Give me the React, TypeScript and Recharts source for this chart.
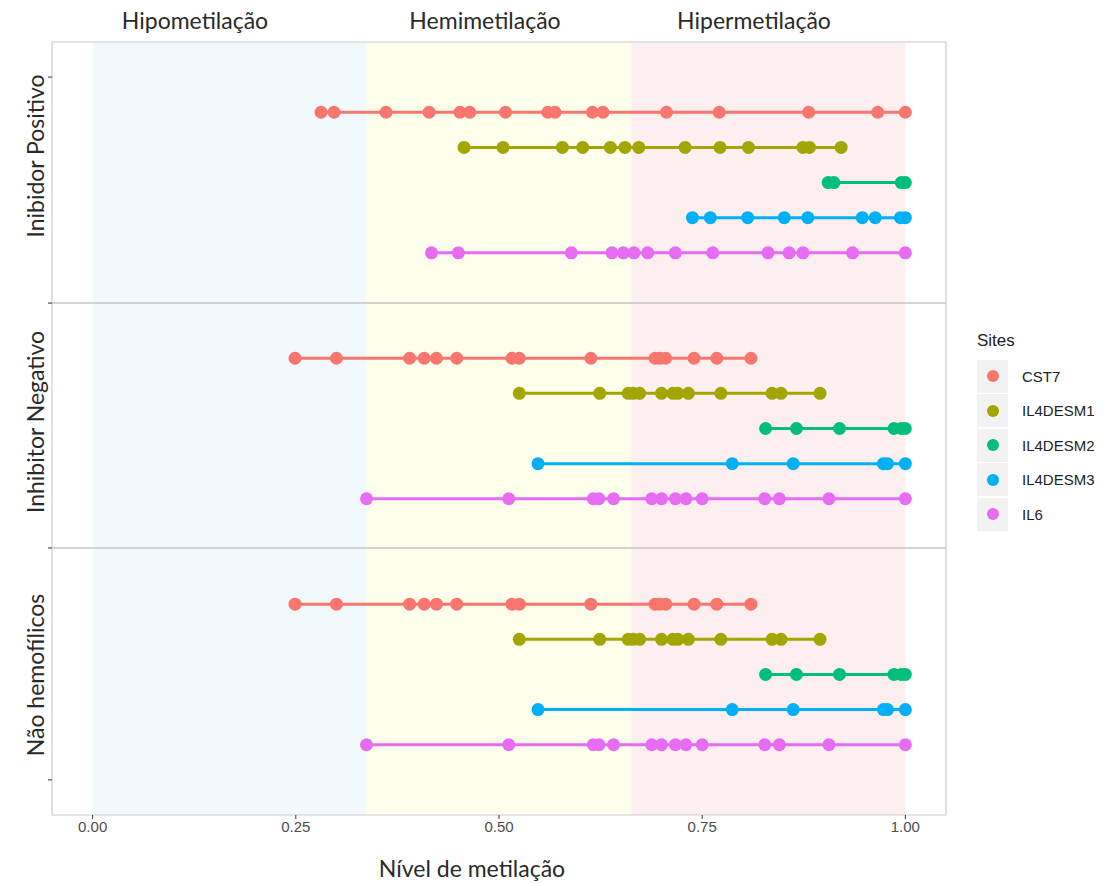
import { ScatterChart, Scatter, XAxis, YAxis, ReferenceArea, ReferenceLine } from 'recharts'

const sites = ['CST7', 'IL4DESM1', 'IL4DESM2', 'IL4DESM3', 'IL6']
const siteColors = ['#F8766D', '#A3A500', '#00BF7D', '#00B0F6', '#E76BF3']
const panels = ['Inibidor Positivo', 'Inhibitor Negativo', 'Não hemofílicos']
const xTicks = [0, 0.25, 0.5, 0.75, 1]

// methylation bands (x range) and their titles
const bandNames = ['Hipometilação', 'Hemimetilação', 'Hipermetilação']
const bandEdges = [0, 0.337, 0.663, 1]
const bandFills = ['#F2F9FD', '#FEFEEC', '#FDEEF0']

// Inibidor Positivo
const posCST7 = [0.281, 0.297, 0.361, 0.414, 0.452, 0.464, 0.508, 0.56, 0.569, 0.615, 0.628, 0.706, 0.771, 0.881, 0.966, 1.0]
const posIL4DESM1 = [0.457, 0.505, 0.578, 0.603, 0.637, 0.655, 0.672, 0.729, 0.772, 0.807, 0.874, 0.882, 0.921]
const posIL4DESM2 = [0.905, 0.912, 0.995, 1.0]
const posIL4DESM3 = [0.738, 0.76, 0.806, 0.851, 0.88, 0.947, 0.963, 0.994, 1.0]
const posIL6 = [0.417, 0.45, 0.589, 0.639, 0.653, 0.666, 0.683, 0.717, 0.763, 0.831, 0.857, 0.874, 0.935, 1.0]

// Inhibitor Negativo
const negCST7 = [0.249, 0.3, 0.39, 0.408, 0.423, 0.448, 0.516, 0.525, 0.613, 0.692, 0.698, 0.705, 0.74, 0.768, 0.81]
const negIL4DESM1 = [0.525, 0.624, 0.659, 0.665, 0.673, 0.7, 0.714, 0.72, 0.733, 0.773, 0.836, 0.847, 0.895]
const negIL4DESM2 = [0.828, 0.866, 0.919, 0.986, 0.995, 1.0]
const negIL4DESM3 = [0.548, 0.787, 0.862, 0.973, 0.978, 1.0]
const negIL6 = [0.337, 0.512, 0.616, 0.623, 0.641, 0.688, 0.7, 0.717, 0.73, 0.75, 0.827, 0.845, 0.906, 1.0]

// Não hemofílicos
const naoCST7 = [0.249, 0.3, 0.39, 0.408, 0.423, 0.448, 0.516, 0.525, 0.613, 0.692, 0.698, 0.705, 0.74, 0.768, 0.81]
const naoIL4DESM1 = [0.525, 0.624, 0.659, 0.665, 0.673, 0.7, 0.714, 0.72, 0.733, 0.773, 0.836, 0.847, 0.895]
const naoIL4DESM2 = [0.828, 0.866, 0.919, 0.986, 0.995, 1.0]
const naoIL4DESM3 = [0.548, 0.787, 0.862, 0.973, 0.978, 1.0]
const naoIL6 = [0.337, 0.512, 0.616, 0.623, 0.641, 0.688, 0.7, 0.717, 0.73, 0.75, 0.827, 0.845, 0.906, 1.0]

const panelValues = [
  [posCST7, posIL4DESM1, posIL4DESM2, posIL4DESM3, posIL6],
  [negCST7, negIL4DESM1, negIL4DESM2, negIL4DESM3, negIL6],
  [naoCST7, naoIL4DESM1, naoIL4DESM2, naoIL4DESM3, naoIL6],
]

// row layout on the shared y scale: 5 rows per panel, panels separated by gaps
const panelStart = [0, 7, 14]
const panelBreaks = [5.43, 12.4]
const yTicks = [-1, 5.43, 12.4, 19]

const titleFont = 'Lato, "Open Sans", sans-serif'
const axisFont = '"Liberation Sans Narrow", "Liberation Sans", Arial, sans-serif'

const series = panelValues.flatMap((vals, p) =>
  vals.map((xs, s) => ({
    key: `${p}-${s}`,
    color: siteColors[s],
    data: xs.map(x => ({ x, y: panelStart[p] + s })),
  }))
)

const Dot = (color: string) => (props: any) => (
  <circle cx={props.cx} cy={props.cy} r={6.5} fill={color} />
)

export default function App() {
  return (
    <div style={{ position: 'relative', width: 1090, height: 875 }}>
      <ScatterChart width={1090} height={875} margin={{ top: 34, right: 152, bottom: 0, left: 0 }}>
        {bandNames.map((n, i) => (
          <ReferenceArea key={n} x1={bandEdges[i]} x2={bandEdges[i + 1]} y1={-2} y2={20} fill={bandFills[i]} fillOpacity={1} stroke="none" />
        ))}
        <ReferenceArea x1={-0.05} x2={1.05} y1={-2} y2={20} fill="none" stroke="#cccccc" strokeWidth={1.2} />
        {panelBreaks.map(b => (
          <ReferenceLine key={b} y={b} stroke="#c4c4c4" strokeWidth={1.5} />
        ))}
        <XAxis
          type="number"
          dataKey="x"
          domain={[-0.05, 1.05]}
          ticks={xTicks}
          tickFormatter={(v: number) => v.toFixed(2)}
          allowDataOverflow
          axisLine={false}
          tickLine={{ stroke: '#333' }}
          tickSize={4}
          tick={{ fill: '#4d4d4d', fontSize: 15, fontFamily: axisFont }}
          height={68}
        />
        <YAxis
          type="number"
          dataKey="y"
          domain={[-2, 20]}
          reversed
          ticks={yTicks}
          tickFormatter={() => ''}
          allowDataOverflow
          axisLine={false}
          tickLine={{ stroke: '#333' }}
          tickSize={4}
          width={44}
        />
        {series.map(s => (
          <Scatter
            key={s.key}
            data={s.data}
            fill={s.color}
            line={{ stroke: s.color, strokeWidth: 3 }}
            lineType="joint"
            shape={Dot(s.color)}
            isAnimationActive={false}
          />
        ))}
      </ScatterChart>

      {bandNames.map((n, i) => (
        <div key={n} style={{ position: 'absolute', left: [187, 477, 746][i], top: 0, transform: 'translateX(-50%)', fontFamily: titleFont, fontSize: 23, lineHeight: '24px', color: '#2a2a2a', whiteSpace: 'nowrap' }}>
          {n}
        </div>
      ))}

      {panels.map((n, i) => (
        <div key={n} style={{ position: 'absolute', left: 27, top: [148, 414, 667][i], transform: 'translate(-50%, -50%) rotate(-90deg)', fontFamily: titleFont, fontSize: 23, lineHeight: '24px', color: '#2a2a2a', whiteSpace: 'nowrap' }}>
          {n}
        </div>
      ))}

      <div style={{ position: 'absolute', left: 464, top: 860, transform: 'translate(-50%, -50%)', fontFamily: titleFont, fontSize: 23, color: '#2a2a2a', whiteSpace: 'nowrap' }}>
        Nível de metilação
      </div>

      <div style={{ position: 'absolute', left: 969, top: 323, fontFamily: '"Liberation Sans", Arial, sans-serif', color: '#222' }}>
        <div style={{ fontSize: 17, height: 28 }}>Sites</div>
        {sites.map((s, i) => (
          <div key={s} style={{ display: 'flex', alignItems: 'center', height: 34.5 }}>
            <div style={{ width: 31, height: 33, background: '#f2f2f2', display: 'flex', alignItems: 'center', justifyContent: 'center' }}>
              <div style={{ width: 12, height: 12, borderRadius: 6, background: siteColors[i] }} />
            </div>
            <span style={{ fontSize: 15, marginLeft: 14 }}>{s}</span>
          </div>
        ))}
      </div>
    </div>
  )
}
